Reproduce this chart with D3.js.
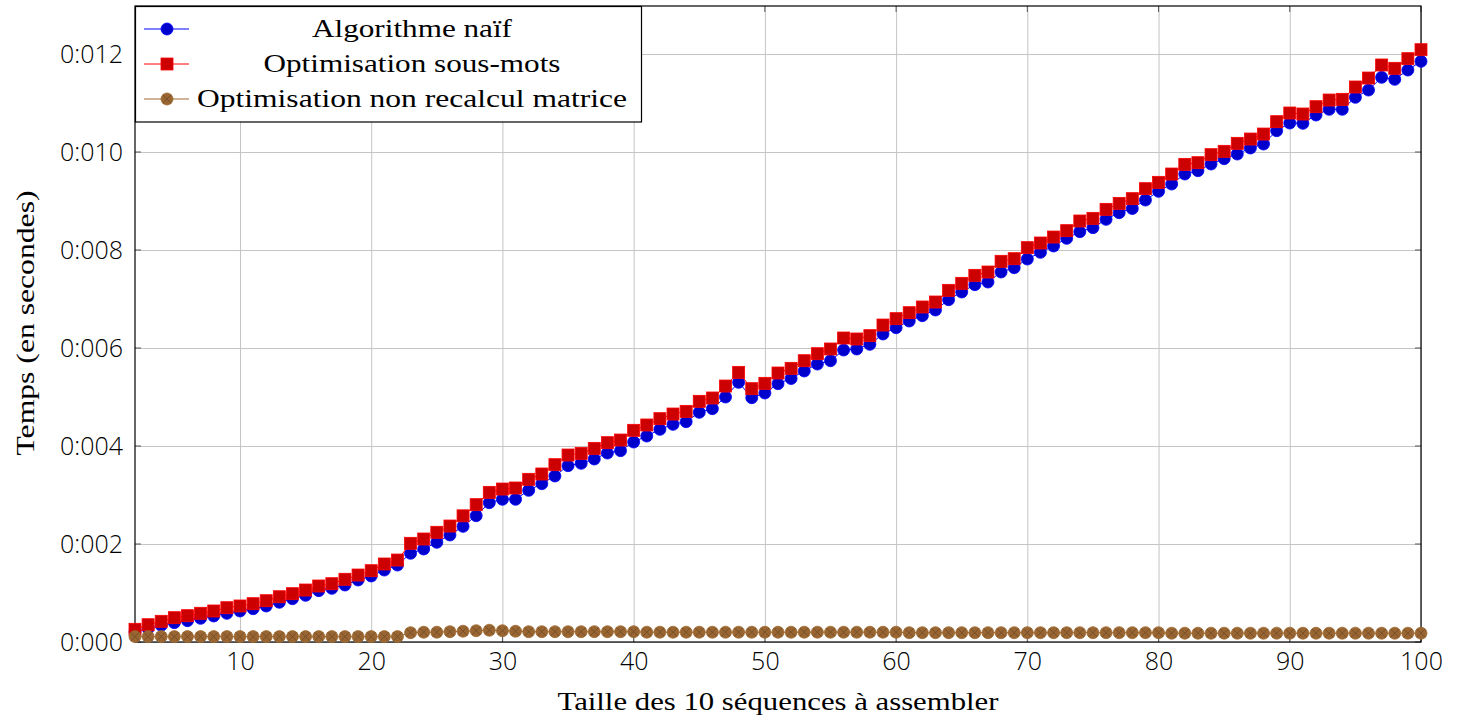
<!DOCTYPE html>
<html>
<head>
<meta charset="utf-8">
<script src="https://cdn.jsdelivr.net/npm/d3@7"></script>
<style>
  body { margin: 0; background: #fff; }
  .tick-label { font-family: "Open Sans", "Liberation Sans", sans-serif; font-size: 25px; font-weight: 300; fill: #000; }
  .serif { font-family: "Liberation Serif", "DejaVu Serif", serif; font-size: 26px; fill: #000; }
</style>
</head>
<body>
<div id="container"></div>
<script>
// taille des sequences (axe x)
var tailles = [2,3,4,5,6,7,8,9,10,11,12,13,14,15,16,17,18,19,20,21,22,23,24,25,26,27,28,29,30,
  31,32,33,34,35,36,37,38,39,40,41,42,43,44,45,46,47,48,49,50,51,52,53,54,55,56,57,58,59,60,
  61,62,63,64,65,66,67,68,69,70,71,72,73,74,75,76,77,78,79,80,81,82,83,84,85,86,87,88,89,90,
  91,92,93,94,95,96,97,98,99,100];

var naif = [0.000211,0.000279,0.000340,0.000395,0.000435,0.000483,0.000531,0.000585,0.000633,
  0.000680,0.000735,0.000810,0.000884,0.000952,0.001048,0.001095,0.001163,0.001265,0.001347,
  0.001469,0.001571,0.001810,0.001898,0.002034,0.002184,0.002360,0.002578,0.002843,0.002912,
  0.002912,0.003095,0.003231,0.003388,0.003599,0.003646,0.003735,0.003857,0.003905,0.004082,
  0.004204,0.004340,0.004442,0.004497,0.004687,0.004762,0.005000,0.005299,0.004986,0.005082,
  0.005272,0.005378,0.005531,0.005673,0.005741,0.005959,0.005980,0.006075,0.006286,0.006415,
  0.006551,0.006660,0.006776,0.006986,0.007143,0.007293,0.007347,0.007551,0.007639,0.007816,
  0.007952,0.008082,0.008238,0.008374,0.008456,0.008626,0.008762,0.008847,0.009020,0.009197,
  0.009347,0.009551,0.009619,0.009755,0.009864,0.009959,0.010082,0.010163,0.010435,0.010592,
  0.010585,0.010755,0.010871,0.010871,0.011116,0.011265,0.011524,0.011483,0.011673,0.011851];

var sousMots = [0.000259,0.000353,0.000422,0.000496,0.000537,0.000586,0.000633,0.000700,0.000735,
  0.000782,0.000843,0.000924,0.000986,0.001061,0.001143,0.001190,0.001280,0.001367,0.001455,
  0.001592,0.001673,0.002014,0.002102,0.002239,0.002367,0.002575,0.002803,0.003054,0.003122,
  0.003143,0.003320,0.003429,0.003619,0.003816,0.003850,0.003952,0.004068,0.004122,0.004320,
  0.004429,0.004558,0.004653,0.004707,0.004912,0.004980,0.005224,0.005503,0.005170,0.005279,
  0.005490,0.005585,0.005741,0.005884,0.005980,0.006204,0.006184,0.006252,0.006469,0.006599,
  0.006721,0.006837,0.006939,0.007177,0.007320,0.007483,0.007551,0.007769,0.007823,0.008048,
  0.008143,0.008265,0.008395,0.008592,0.008646,0.008830,0.008952,0.009048,0.009252,0.009381,
  0.009551,0.009748,0.009782,0.009946,0.010014,0.010177,0.010265,0.010367,0.010619,0.010796,
  0.010776,0.010925,0.011061,0.011075,0.011327,0.011510,0.011776,0.011708,0.011905,0.012088];

var nonRecalcul = [0.00011,0.00011,0.00011,0.00011,0.00011,0.00011,0.00011,0.00011,0.00011,
  0.00011,0.00011,0.00011,0.00011,0.00011,0.00011,0.00011,0.00011,0.00011,0.00011,0.00011,
  0.00011,0.00019,0.00020,0.00020,0.00021,0.00022,0.00023,0.00024,0.00023,0.00022,0.00021,
  0.00021,0.00021,0.00021,0.00021,0.00021,0.00021,0.00021,0.00021,0.00020,0.00020,0.00020,
  0.00020,0.00020,0.00020,0.00020,0.00020,0.00020,0.00020,0.00020,0.00020,0.00020,0.00020,
  0.00020,0.00020,0.00020,0.00020,0.00020,0.00020,0.00019,0.00019,0.00019,0.00019,0.00019,
  0.00019,0.00019,0.00019,0.00019,0.00019,0.00019,0.00019,0.00019,0.00019,0.00019,0.00019,
  0.00019,0.00019,0.00019,0.00019,0.00018,0.00018,0.00018,0.00018,0.00018,0.00018,0.00018,
  0.00018,0.00018,0.00018,0.00018,0.00018,0.00018,0.00018,0.00018,0.00018,0.00018,0.00018,
  0.00018,0.00018];

var xTicks = [10, 20, 30, 40, 50, 60, 70, 80, 90, 100];
var yTicks = [0, 0.002, 0.004, 0.006, 0.008, 0.010, 0.012];

var series = [
  { name: "Algorithme naïf", values: naif, line: "#0000ff", fill: "#0000cc", mark: "circle" },
  { name: "Optimisation sous-mots", values: sousMots, line: "#ff0000", fill: "#cc0000", mark: "square" },
  { name: "Optimisation non recalcul matrice", values: nonRecalcul, line: "#a0692f", fill: "#996633", mark: "otimes" }
];

function drawChart() {
  var W = 1460, H = 721;
  var mLeft = 135, mRight = 1421, mTop = 6, mBottom = 642;

  var svg = d3.select("#container").append("svg")
      .attr("width", W)
      .attr("height", H);

  var x = d3.scaleLinear().domain([2, 100]).range([mLeft, mRight]);
  var y = d3.scaleLinear().domain([0, 0.01298]).range([mBottom, mTop]);

  // grille
  svg.append("g")
      .attr("transform", "translate(0," + mBottom + ")")
      .call(d3.axisBottom(x).tickValues(xTicks).tickSize(-(mBottom - mTop)).tickFormat(""))
      .call(function(g) { g.select(".domain").remove() })
      .selectAll("line").attr("stroke", "#c4c4c4");
  svg.append("g")
      .attr("transform", "translate(" + mLeft + ",0)")
      .call(d3.axisLeft(y).tickValues(yTicks).tickSize(-(mRight - mLeft)).tickFormat(""))
      .call(function(g) { g.select(".domain").remove() })
      .selectAll("line").attr("stroke", "#c4c4c4");

  // petits traits de graduation
  var tl = 6;
  xTicks.forEach(function(t) {
    svg.append("line").attr("x1", x(t)).attr("x2", x(t)).attr("y1", mBottom).attr("y2", mBottom - tl).attr("stroke", "#555");
    svg.append("line").attr("x1", x(t)).attr("x2", x(t)).attr("y1", mTop).attr("y2", mTop + tl).attr("stroke", "#555");
  });
  yTicks.forEach(function(t) {
    svg.append("line").attr("x1", mLeft).attr("x2", mLeft + tl).attr("y1", y(t)).attr("y2", y(t)).attr("stroke", "#555");
    svg.append("line").attr("x1", mRight).attr("x2", mRight - tl).attr("y1", y(t)).attr("y2", y(t)).attr("stroke", "#555");
  });

  // etiquettes
  svg.append("g")
      .attr("transform", "translate(0," + mBottom + ")")
      .call(d3.axisBottom(x).tickValues(xTicks).tickSize(0).tickPadding(9))
      .call(function(g) { g.select(".domain").remove() })
      .selectAll("text").attr("class", "tick-label").attr("dy", "0.75em")
      .style("font-size", "25px").style("font-weight", "300")
      .style("font-family", "'Open Sans', 'Liberation Sans', sans-serif");
  svg.append("g")
      .attr("transform", "translate(" + mLeft + ",0)")
      .call(d3.axisLeft(y).tickValues(yTicks).tickSize(0).tickPadding(12)
        .tickFormat(function(d) { return d3.format(".3f")(d).replace(".", ":") }))
      .call(function(g) { g.select(".domain").remove() })
      .selectAll("text").attr("class", "tick-label")
      .style("font-size", "25px").style("font-weight", "300")
      .style("font-family", "'Open Sans', 'Liberation Sans', sans-serif");

  // cadre
  svg.append("rect")
      .attr("x", mLeft).attr("y", mTop)
      .attr("width", mRight - mLeft).attr("height", mBottom - mTop)
      .attr("fill", "none").attr("stroke", "#000").attr("stroke-width", 1.2);

  function drawMark(g, type, cx, cy, s) {
    if (type == "circle") {
      g.append("circle").attr("cx", cx).attr("cy", cy).attr("r", 6)
          .attr("fill", s.fill).attr("stroke", s.line).attr("stroke-width", 0.8);
    } else if (type == "square") {
      g.append("rect").attr("x", cx - 6).attr("y", cy - 6).attr("width", 12).attr("height", 12)
          .attr("fill", s.fill).attr("stroke", s.line).attr("stroke-width", 0.8);
    } else {
      g.append("circle").attr("cx", cx).attr("cy", cy).attr("r", 6)
          .attr("fill", s.fill).attr("stroke", s.line).attr("stroke-width", 0.8);
      var d = 6 * Math.SQRT1_2;
      g.append("path")
          .attr("d", "M" + (cx - d) + "," + (cy - d) + "L" + (cx + d) + "," + (cy + d) +
                "M" + (cx - d) + "," + (cy + d) + "L" + (cx + d) + "," + (cy - d))
          .attr("stroke", "#6e4a25").attr("stroke-width", 0.8).attr("fill", "none");
    }
  }

  var line = d3.line()
      .x(function(d) { return x(d[0]) })
      .y(function(d) { return y(d[1]) });

  series.forEach(function(s) {
    var pts = tailles.map(function(t, i) { return [t, s.values[i]] });
    var g = svg.append("g");
    g.append("path")
        .attr("d", line(pts))
        .attr("fill", "none")
        .attr("stroke", s.line)
        .attr("stroke-width", 1);
    pts.forEach(function(p) { drawMark(g, s.mark, x(p[0]), y(p[1]), s) });
  });

  // titres des axes
  svg.append("text")
      .attr("class", "serif")
      .attr("x", (mLeft + mRight) / 2)
      .attr("y", 710)
      .attr("text-anchor", "middle")
      .attr("textLength", 441)
      .attr("lengthAdjust", "spacingAndGlyphs")
      .text("Taille des 10 séquences à assembler");

  svg.append("text")
      .attr("class", "serif")
      .attr("transform", "translate(34,323) rotate(-90)")
      .attr("text-anchor", "middle")
      .attr("textLength", 265)
      .attr("lengthAdjust", "spacingAndGlyphs")
      .text("Temps (en secondes)");

  // legende
  var legend = svg.append("g");
  legend.append("rect")
      .attr("x", 135.5).attr("y", 6.5)
      .attr("width", 506).attr("height", 115.5)
      .attr("fill", "#fff").attr("stroke", "#000").attr("stroke-width", 1.2);

  var rowY = [29, 64, 99];
  var widths = [200, 297, 430];
  series.forEach(function(s, i) {
    legend.append("line")
        .attr("x1", 144).attr("x2", 189)
        .attr("y1", rowY[i]).attr("y2", rowY[i])
        .attr("stroke", s.line).attr("stroke-width", 1);
    drawMark(legend, s.mark, 167, rowY[i], s);
    legend.append("text")
        .attr("class", "serif")
        .attr("x", 412)
        .attr("y", rowY[i] + 8)
        .attr("text-anchor", "middle")
        .attr("textLength", widths[i])
        .attr("lengthAdjust", "spacingAndGlyphs")
        .text(s.name);
  });
}

drawChart();
</script>
</body>
</html>
